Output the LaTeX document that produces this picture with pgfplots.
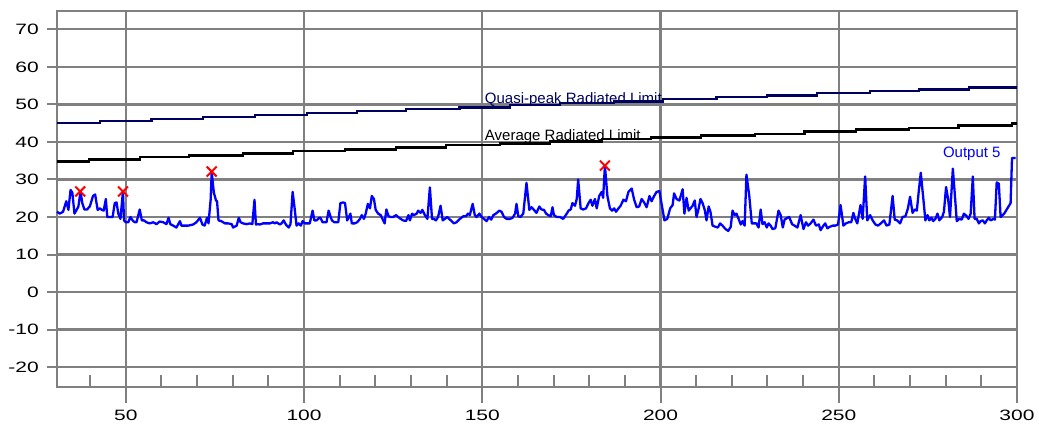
\documentclass[border=0pt]{standalone}
\usepackage{pgfplots}
\pgfplotsset{compat=1.18}
\usepackage{graphicx}
\usepackage{fontspec}
\setmainfont{Liberation Sans}
\definecolor{qpnavy}{RGB}{0,0,96}
\definecolor{gridgray}{RGB}{128,128,128}
\newcommand\sx[1]{\scalebox{1.4}[1]{#1}}
\begin{document}
\fontsize{15bp}{18bp}\selectfont
\begin{tikzpicture}
\useasboundingbox (0,0) rectangle (1039bp,425bp);
\begin{axis}[
  at={(57bp,38bp)}, anchor=south west,
  scale only axis, width=960bp, height=376bp,
  xmin=30.7, xmax=300, ymin=-25.3, ymax=74.9,
  xtick={50,100,150,200,250,300},
  xticklabels={\sx{50},\sx{100},\sx{150},\sx{200},\sx{250},\sx{300}},
  ytick={-20,-10,0,10,20,30,40,50,60,70},
  yticklabels={\sx{-20},\sx{-10},\sx{0},\sx{10},\sx{20},\sx{30},\sx{40},\sx{50},\sx{60},\sx{70}},
  minor xtick={40,60,70,80,90,110,120,130,140,160,170,180,190,210,220,230,240,260,270,280,290},
  tick pos=left,
  tick align=outside,
  major tick length=10bp,
  minor tick length=12bp,
  every minor tick/.append style={yshift=12bp},
  extra x ticks={50,100,150,200,250,300},
  extra x tick labels={},
  extra x tick style={major tick length=16bp, grid=none},
  grid=major,
  major grid style={gridgray, line width=2.2bp},
  axis line style={gridgray, line width=2.2bp},
  tick style={gridgray, line width=2bp},
  xticklabel style={inner sep=0pt, anchor=north, yshift=-13bp},
  yticklabel style={inner sep=0pt, anchor=east, xshift=-8bp},
  clip=false,
]
% Quasi-peak limit
\addplot[const plot, qpnavy, line width=2.2bp] coordinates {
(30.7,45.0) (42.7,45.5) (57.2,46.1) (71.6,46.6) (86.2,47.1) (100.8,47.7) (114.8,48.2) (128.7,48.7) (143.6,49.2) (157.7,49.8) (171.9,50.3) (186.9,50.8) (200.6,51.4) (215.7,51.9) (229.8,52.4) (243.8,53.0) (258.7,53.5) (272.5,54.0) (286.5,54.5) (300,54.5)};
% Average limit
\addplot[const plot, black, line width=2.2bp] coordinates {
(30.7,34.8) (39.7,35.3) (53.9,35.9) (67.8,36.4) (82.8,36.9) (96.8,37.5) (111.5,38.0) (125.8,38.5) (139.9,39.1) (154.9,39.6) (168.9,40.1) (183.6,40.7) (197.4,41.2) (211.4,41.7) (226.4,42.2) (240.4,42.8) (254.8,43.3) (269.6,43.8) (283.6,44.4) (298.6,44.9) (300,44.9)};
% Output 5
\addplot[blue, line width=2.3bp, line join=round] coordinates {
(30.7,21.4) (31.5,20.9) (32.4,21.4) (33.3,24.2) (33.9,21.9) (34.5,27.2) (35.0,26.5) (35.6,20.9) (36.2,21.9) (36.7,22.8) (37.3,26.8) (37.8,23.7) (38.4,22.0) (39.1,22.0) (39.9,22.8) (40.8,25.6) (41.4,26.0) (42.1,21.9) (42.7,22.3) (43.3,21.9) (43.8,21.7) (44.4,24.8) (44.8,20.0) (45.5,20.0) (46.3,20.0) (46.9,23.7) (47.4,23.9) (47.9,20.9) (48.5,19.5) (49.2,26.8) (49.5,19.1) (50.0,18.6) (50.7,18.6) (51.3,20.0) (51.9,19.1) (52.5,18.6) (53.0,18.6) (53.9,22.0) (54.5,19.1) (55.1,19.1) (55.8,18.6) (56.7,18.3) (57.7,18.6) (58.6,18.1) (59.5,18.8) (60.5,18.6) (61.4,18.1) (62.0,19.8) (62.5,18.1) (63.3,17.7) (64.2,17.2) (65.2,18.9) (65.6,17.7) (66.6,17.7) (67.5,17.7) (68.9,18.0) (69.8,18.6) (70.8,19.8) (71.5,18.0) (72.1,17.7) (72.8,19.8) (73.2,18.3) (73.8,24.6) (74.1,31.9) (74.7,26.5) (75.3,24.4) (75.6,24.2) (76.0,19.1) (76.8,18.9) (77.8,18.3) (78.7,18.3) (79.7,18.1) (80.1,17.2) (81.1,17.7) (81.7,19.8) (82.2,18.6) (82.9,18.3) (83.9,18.1) (84.8,18.3) (85.5,18.1) (86.1,24.6) (86.5,18.0) (87.1,18.1) (87.6,18.0) (88.5,18.3) (89.5,18.3) (90.4,18.3) (91.3,18.6) (91.8,18.3) (92.3,18.6) (93.2,18.0) (93.7,18.3) (94.3,19.1) (94.9,18.0) (95.7,17.2) (96.2,18.1) (96.8,26.7) (97.3,22.8) (97.9,17.7) (98.5,18.3) (99.1,17.7) (99.6,18.9) (100.2,18.3) (100.9,18.3) (101.6,18.3) (102.4,21.7) (102.9,19.1) (103.5,19.1) (104.3,19.8) (104.6,19.8) (105.2,18.6) (105.8,18.6) (106.3,18.6) (106.9,21.7) (107.3,20.5) (107.8,19.1)
(108.5,18.6) (109.6,18.6) (110.2,23.7) (111.0,23.9) (111.5,23.7) (112.1,19.1) (112.6,20.0) (113.0,20.9) (113.4,18.3) (114.2,18.3) (114.9,18.6) (115.7,19.5) (116.2,20.5) (116.8,19.5) (117.3,20.9) (117.9,23.5) (118.5,22.3) (119.0,25.6) (119.6,24.8) (120.1,21.9) (120.8,20.9) (121.5,20.5) (122.0,19.5) (122.6,18.3) (123.1,22.0) (123.7,20.2) (124.3,20.0) (125.0,20.0) (125.8,20.5) (126.4,20.0) (127.1,19.5) (127.8,19.1) (128.6,18.9) (129.3,20.5) (129.7,19.1) (130.3,20.9) (130.8,20.5) (131.6,20.9) (132.0,21.7) (132.7,21.1) (133.2,21.9) (133.9,20.5) (134.6,19.5) (135.3,27.9) (135.9,19.5) (136.4,19.5) (137.0,19.1) (137.6,20.0) (138.3,23.0) (138.9,19.1) (139.5,19.5) (140.2,20.0) (140.7,19.5) (141.4,18.9) (142.0,18.3) (142.8,18.6) (143.7,19.5) (144.7,20.2) (145.4,20.2) (146.0,20.9) (146.5,20.5) (147.3,23.5) (147.9,20.5) (148.4,20.0) (149.2,20.9) (149.8,20.0) (150.5,19.5) (151.2,18.9) (151.9,20.0) (152.5,19.3) (153.1,20.5) (153.8,20.9) (154.8,21.7) (155.4,21.4) (156.1,20.0) (156.8,19.5) (157.8,19.5) (158.5,19.8) (159.2,20.9) (159.6,23.5) (160.1,20.2) (160.7,20.0) (161.5,20.9) (162.4,29.1) (163.2,21.9) (163.8,22.6) (164.5,21.9) (165.2,21.1) (166.0,22.8) (166.6,22.0) (167.3,21.9) (167.9,20.9) (168.5,20.5) (169.2,20.2) (169.7,22.6) (170.1,20.5) (170.9,20.0) (171.8,20.0) (172.7,19.5) (173.7,20.9) (174.2,21.7) (174.8,22.0) (175.3,23.7) (176.0,23.0) (176.5,24.8) (176.9,30.0) (177.6,22.3) (178.3,22.0) (179.1,22.3) (179.8,23.7) (180.4,24.6) (180.9,23.0) (181.6,24.8) (182.1,22.3) (182.8,25.6) (183.5,26.7) (183.9,25.1) (184.4,33.7) (185.1,25.6) (185.8,22.3) (186.4,21.7) (187.0,22.3) (187.5,21.4) (188.2,22.3) (188.8,23.0) (189.6,24.6) (190.3,24.2) (191.0,26.7) (191.9,27.6) (192.6,24.6) (193.3,22.6) (194.0,22.8) (194.7,24.8) (195.4,23.9) (196.1,22.6) (196.9,25.6) (197.5,24.2) (198.2,25.6) (198.9,26.7) (199.7,26.9) (200.3,23.5) (201.1,19.1) (201.9,19.5) (202.7,22.3) (203.4,23.2) (203.8,26.3) (204.5,24.8) (205.3,24.4)
(206.2,27.4) (206.7,20.9) (207.3,25.1) (207.9,21.7) (208.4,22.3) (209.0,23.0) (209.6,24.4) (210.1,20.0) (210.7,22.3) (211.2,24.8) (211.8,23.7) (212.4,21.9) (212.9,19.1) (213.5,22.8) (214.0,21.4) (214.6,17.7) (215.4,17.4) (216.1,17.2) (216.7,18.3) (217.4,17.7) (218.2,16.8) (219.0,16.3) (219.7,17.4) (220.2,21.7) (220.8,20.5) (221.3,20.9) (221.9,19.5) (222.5,18.0) (223.0,18.9) (223.6,17.7) (224.1,31.3) (224.9,25.6) (225.6,18.3) (226.2,18.3) (226.9,18.3) (227.5,17.2) (228.1,22.0) (228.6,18.1) (229.2,18.6) (229.8,17.2) (230.3,18.3) (230.9,17.7) (231.4,16.8) (232.2,17.0) (233.1,21.7) (233.7,20.5) (234.3,17.2) (234.8,19.3) (235.6,19.8) (236.1,20.0) (236.9,18.1) (237.6,17.7) (238.4,17.2) (239.3,20.5) (240.1,16.8) (240.8,18.6) (241.4,17.7) (242.1,18.3) (242.9,19.3) (243.6,17.7) (244.4,18.0) (244.9,16.5) (245.7,17.7) (246.2,18.3) (246.8,17.0) (247.5,17.4) (248.3,17.7) (249.0,17.7) (249.8,18.0) (250.5,23.2) (251.3,17.7) (252.0,18.3) (252.8,18.6) (253.5,18.6) (254.1,21.1) (254.6,19.5) (255.2,18.3) (256.1,23.2) (256.7,19.5) (257.4,30.8) (258.0,19.1) (258.8,20.5) (259.5,19.1) (260.3,18.0) (261.0,17.7) (261.8,18.3) (262.7,19.1) (263.4,17.7) (264.2,18.0) (265.1,25.6) (265.7,19.3) (266.4,19.1) (267.2,18.3) (267.9,20.0) (268.7,20.2) (269.4,22.3) (270.0,25.4) (270.7,21.1) (271.3,22.0) (271.9,21.7) (272.4,26.5) (273.0,31.8) (273.7,25.1) (274.3,19.1) (274.9,20.5) (275.4,19.1) (276.0,19.8) (276.5,18.9) (277.1,19.5) (277.7,20.9) (278.2,19.1) (279.0,20.0) (279.5,21.4) (280.1,28.0) (280.7,24.6) (281.2,20.0) (282.0,32.9) (282.7,24.2) (283.1,18.9) (283.8,19.5) (284.5,19.3) (285.1,20.9) (285.9,20.2) (286.4,19.5) (287.0,20.9) (287.6,30.8) (288.1,19.5) (288.7,19.5) (289.3,18.3) (289.8,18.9) (290.4,19.1) (291.0,18.3) (291.5,19.1) (292.1,19.8) (292.6,19.1) (293.4,19.5) (293.8,19.3) (294.3,29.2) (294.9,28.9) (295.4,20.0) (296.4,20.9) (297.3,22.3) (298.2,23.7) (298.6,35.7) (299.6,35.7)};
% peak markers
\addplot[only marks, red, mark=x, mark size=7bp, line width=2bp] coordinates {
(37.2,26.8) (49.2,26.8) (74.1,32.1) (184.4,33.7)};
\node[anchor=base west, text=qpnavy, inner sep=0pt] at (axis cs:150.7,50.3) {Quasi-peak Radiated Limit};
\node[anchor=base west, text=black, inner sep=0pt] at (axis cs:150.7,40.4) {Average Radiated Limit};
\node[anchor=base west, text=blue, inner sep=0pt] at (axis cs:279.2,35.8) {Output 5};
\end{axis}
\end{tikzpicture}
\end{document}
